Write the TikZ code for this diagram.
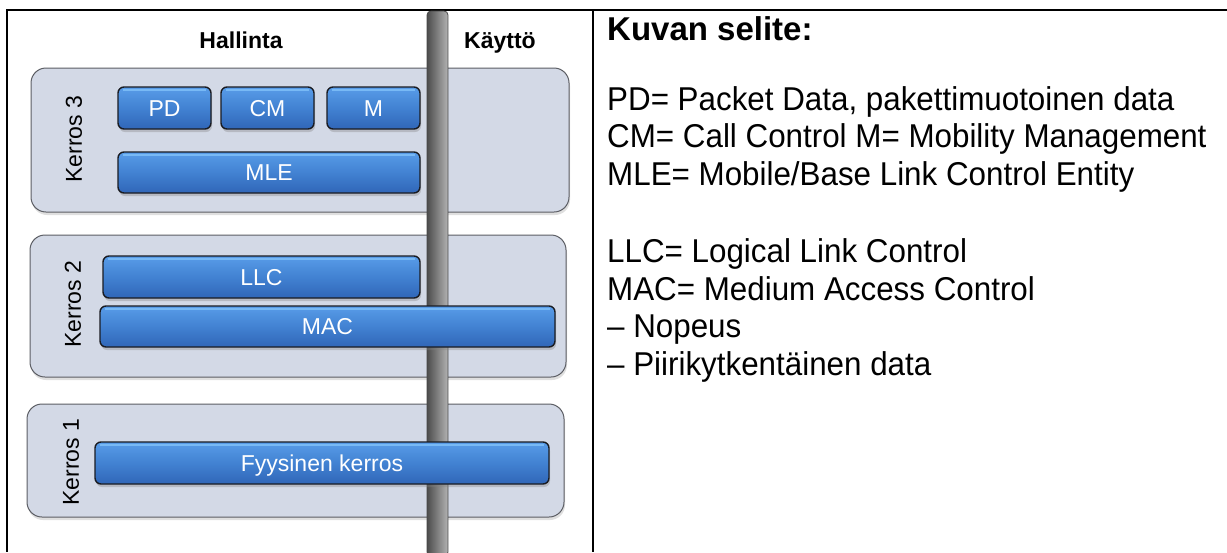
\documentclass[tikz,border=0pt]{standalone}
\usepackage{fontspec}
\setmainfont{Liberation Sans}
\newfontfamily\legendfont[FakeStretch=0.95]{Liberation Sans}
\usetikzlibrary{shadows}

\definecolor{layerfill}{RGB}{211,217,230}
\definecolor{layerline}{RGB}{92,94,100}
\definecolor{bluetop}{RGB}{88,156,232}
\definecolor{bluemid}{RGB}{66,130,210}
\definecolor{bluebot}{RGB}{48,102,184}
\definecolor{bluegloss}{RGB}{120,185,245}
\definecolor{blueline}{RGB}{26,28,34}

\tikzset{
  rule/.style={line width=2.5pt, black},
  layer/.style={draw=layerline, line width=1pt, fill=layerfill,
    rounded corners=15pt, inner sep=0pt, outer sep=0pt,
    drop shadow={shadow xshift=1pt, shadow yshift=-3pt, opacity=0.25}},
  block/.style={draw=blueline, line width=1.4pt, rounded corners=6pt,
    top color=bluetop, bottom color=bluebot, middle color=bluemid,
    inner sep=0pt, outer sep=0pt, text=white,
    font=\fontsize{23}{27}\selectfont, text height=16.5pt, text depth=0pt,
    drop shadow={shadow xshift=1pt, shadow yshift=-3pt, opacity=0.35},
    path picture={\draw[bluegloss, line width=1.6pt]
      ([xshift=5pt, yshift=-3pt]path picture bounding box.north west) --
      ([xshift=-5pt, yshift=-3pt]path picture bounding box.north east);}},
  pole/.style={draw=black!72, line width=0.8pt, rounded corners=4pt,
    left color=black!70, middle color=black!55, right color=black!30,
    inner sep=0pt, outer sep=0pt},
  side/.style={rotate=90, font=\fontsize{23}{27}\selectfont, text=black},
  head/.style={font=\bfseries\fontsize{23}{27}\selectfont, anchor=base},
  legend/.style={font=\legendfont\fontsize{33}{38}\selectfont, anchor=base west, inner sep=0pt},
}

\begin{document}
\begin{tikzpicture}[x=1pt, y=-1pt]
  \useasboundingbox[fill=white] (0,0) rectangle (1227,552);

  % table frame
  \draw[rule] (1227,10) -| (7,552);
  \draw[rule] (593,10) -- (593,552);

  % column headings
  \node[head] (hallinta) at (241,48) {Hallinta};
  \node[head] (kaytto) at (500,48) {Käyttö};

  % protocol layers
  \node[layer, minimum width=538pt, minimum height=144pt] (L3) at (300,140) {};
  \node[layer, minimum width=536pt, minimum height=142pt] (L2) at (298,306) {};
  \node[layer, minimum width=537pt, minimum height=113pt] (L1) at (295.5,460.5) {};

  \node[side] (k3) at (74,139) {Kerros 3};
  \node[side] (k2) at (73,304) {Kerros 2};
  \node[side] (k1) at (71,462) {Kerros 1};

  % control / user plane divider
  \node[pole, minimum width=21pt, minimum height=545pt] (pole) at (437.5,283.5) {};

  % protocol entities
  \node[block, minimum width=93pt, minimum height=42pt] (PD) at (164.5,108) {PD};
  \node[block, minimum width=93pt, minimum height=42pt] (CM) at (267.5,108) {CM};
  \node[block, minimum width=93pt, minimum height=42pt] (M) at (373.5,108) {M};
  \node[block, minimum width=302pt, minimum height=41pt] (MLE) at (269,172.5) {MLE};
  \node[block, minimum width=317pt, minimum height=42pt] (LLC) at (261.5,277) {LLC};
  \node[block, minimum width=455pt, minimum height=41pt] (MAC) at (327.5,326.5) {MAC};
  \node[block, minimum width=454pt, minimum height=42pt] (PHY) at (322,463) {Fyysinen kerros};

  % legend
  \node[legend, font=\bfseries\fontsize{33}{38}\selectfont] (title) at (607,40) {Kuvan selite:};
  \node[legend] (lpd) at (607,110) {PD= Packet Data, pakettimuotoinen data};
  \node[legend] (lcm) at (607,147.5) {CM= Call Control M= Mobility Management};
  \node[legend] (lmle) at (607,185) {MLE= Mobile/Base Link Control Entity};
  \node[legend] (lllc) at (607,262.5) {LLC= Logical Link Control};
  \node[legend] (lmac) at (607,300) {MAC= Medium Access Control};
  \node[legend] (lnop) at (607,337.5) {–\ Nopeus};
  \node[legend] (lpii) at (607,375) {–\ Piirikytkentäinen data};
\end{tikzpicture}
\end{document}
